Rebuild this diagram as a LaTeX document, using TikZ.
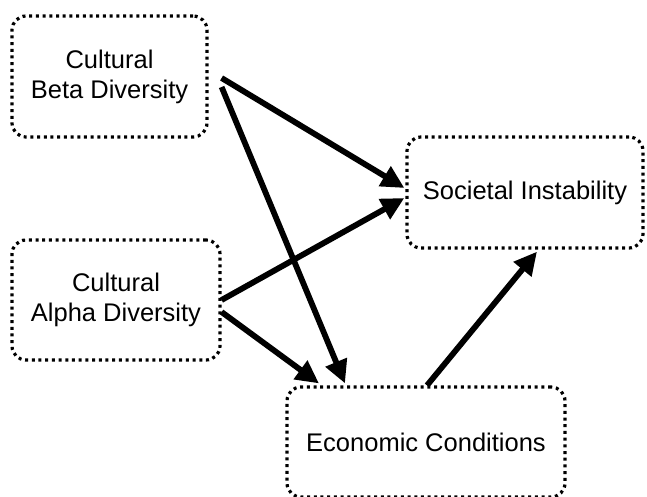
\documentclass[tikz,border=0pt]{standalone}
\usepackage{fontspec}
\setmainfont{Liberation Sans}
\usetikzlibrary{arrows.meta,calc}
\begin{document}
\begin{tikzpicture}[x=1pt,y=-1pt,
  box/.style={draw=black, line width=3.2pt, dash pattern=on 3pt off 3.7pt,
    rounded corners=14pt, inner sep=0pt, align=center,
    font=\fontsize{25.5}{30}\selectfont},
  arr/.style={line width=5.8pt, -{Triangle[length=23pt,width=22pt]}}]
\useasboundingbox (0,0) rectangle (647,496);
\begin{scope}
\clip (0,0) rectangle (647,496);
\node[box, minimum width=195pt, minimum height=121pt] (beta) at (109.5,76.5) {Cultural\\Beta Diversity};
\node[box, minimum width=208pt, minimum height=120pt] (alpha) at (116,300) {Cultural\\Alpha Diversity};
\node[box, minimum width=236pt, minimum height=111pt] (soc) at (525,192.5) {Societal Instability};
\node[box, minimum width=278pt, minimum height=110pt] (econ) at (426,442) {Economic Conditions};
\end{scope}
\draw[arr] ($(beta.east)+(13,1.5)$) -- ($(soc.west)+(-1,-4.5)$);
\draw[arr] ($(beta.east)+(13,10.5)$) -- ($(econ.north)+(-81,-2)$);
\draw[arr] ($(alpha.east)+(0,0)$) -- ($(soc.west)+(-1,5.5)$);
\draw[arr] ($(alpha.east)+(0,12)$) -- ($(econ.north)+(-107,-2)$);
\draw[arr] ($(econ.north)+(1,0)$) -- ($(soc.south)+(12,2)$);
\end{tikzpicture}
\end{document}
